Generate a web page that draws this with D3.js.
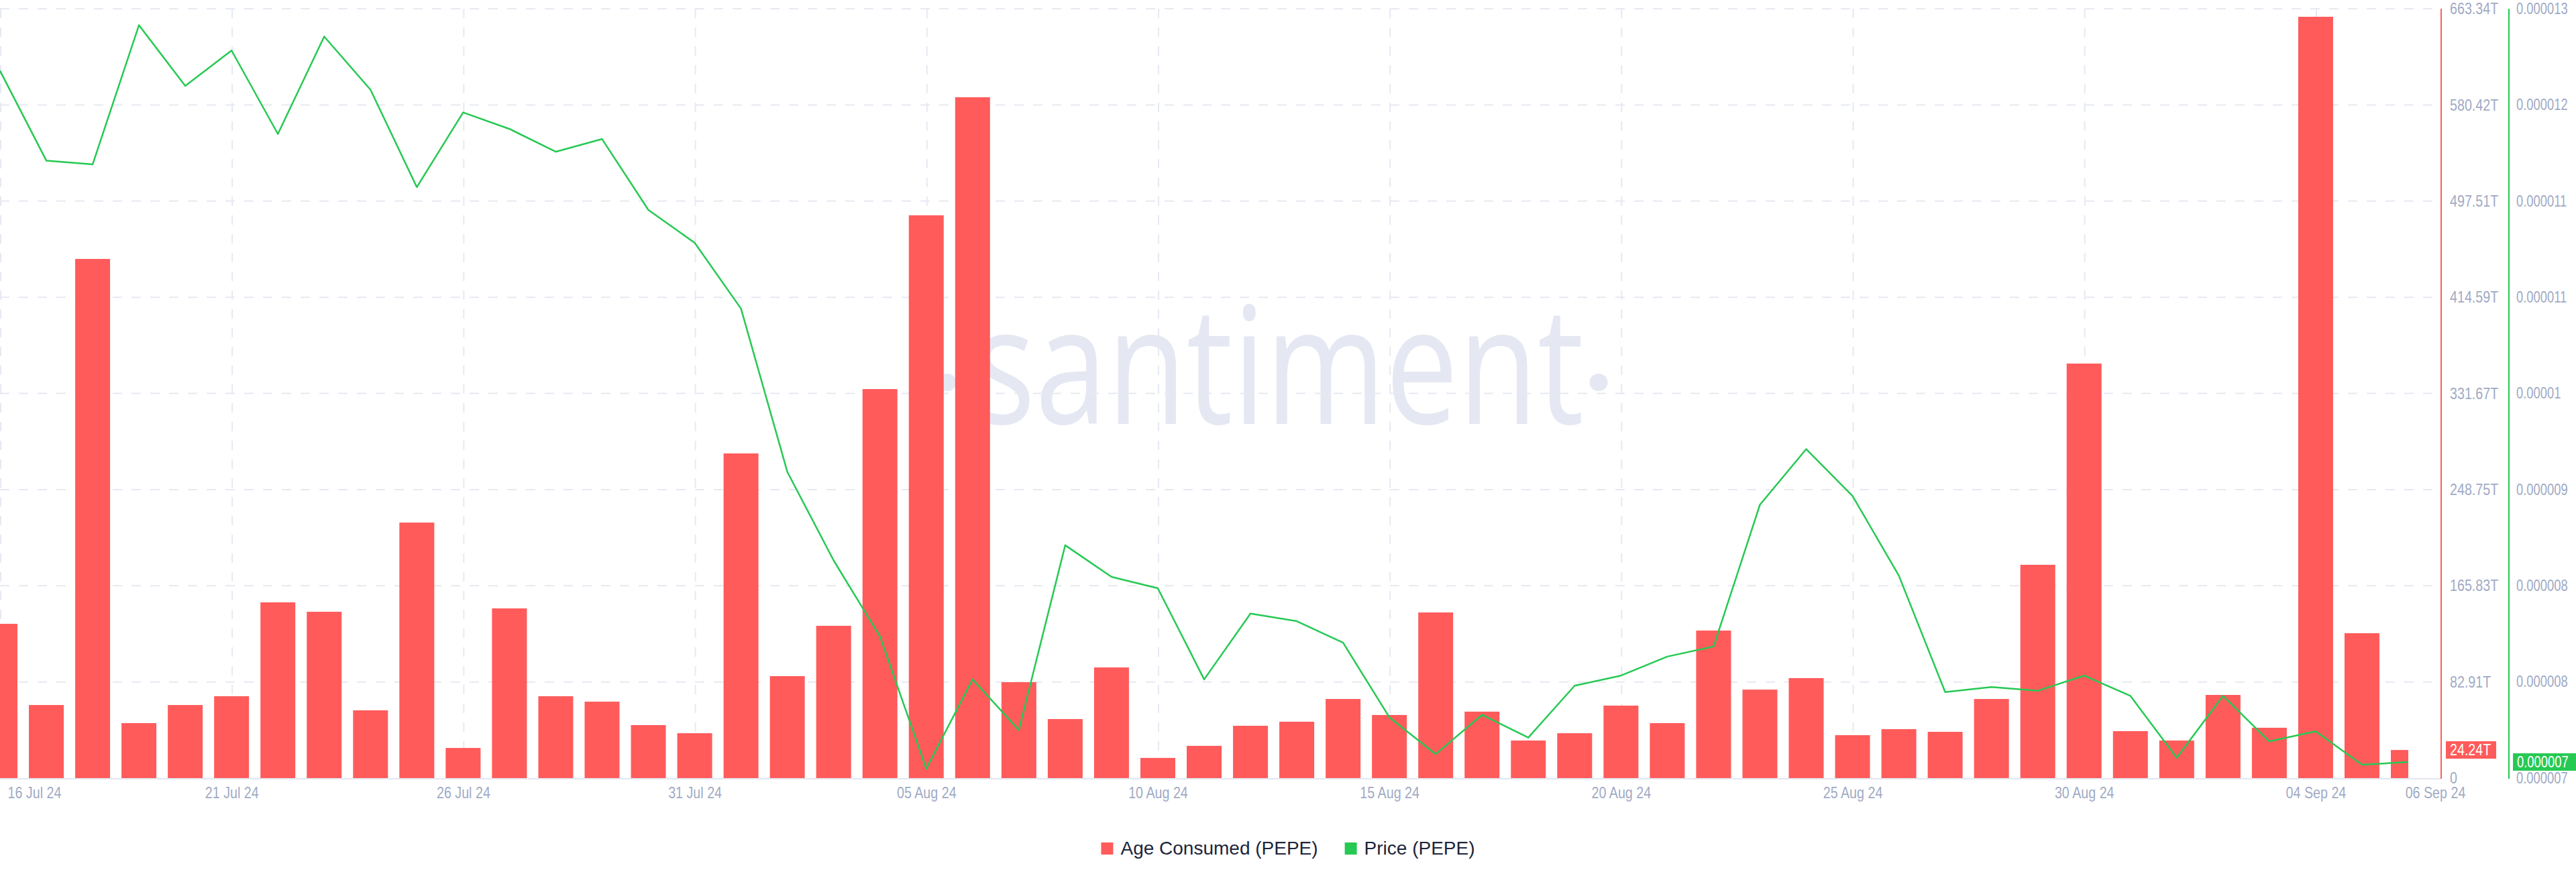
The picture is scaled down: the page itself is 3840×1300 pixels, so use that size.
<!DOCTYPE html>
<html>
<head>
<meta charset="utf-8">
<script src="https://cdn.jsdelivr.net/npm/d3@7"></script>
<style>
  html, body { margin: 0; padding: 0; background: #ffffff; }
  svg { display: block; }
</style>
</head>
<body>
<svg id="chart" width="3840" height="1300"></svg>
<script>
// ---------------- DATA ----------------
const dates = [
  "2024-07-16","2024-07-17","2024-07-18","2024-07-19","2024-07-20","2024-07-21","2024-07-22","2024-07-23",
  "2024-07-24","2024-07-25","2024-07-26","2024-07-27","2024-07-28","2024-07-29","2024-07-30","2024-07-31",
  "2024-08-01","2024-08-02","2024-08-03","2024-08-04","2024-08-05","2024-08-06","2024-08-07","2024-08-08",
  "2024-08-09","2024-08-10","2024-08-11","2024-08-12","2024-08-13","2024-08-14","2024-08-15","2024-08-16",
  "2024-08-17","2024-08-18","2024-08-19","2024-08-20","2024-08-21","2024-08-22","2024-08-23","2024-08-24",
  "2024-08-25","2024-08-26","2024-08-27","2024-08-28","2024-08-29","2024-08-30","2024-08-31","2024-09-01",
  "2024-09-02","2024-09-03","2024-09-04","2024-09-05","2024-09-06"
];

// Age Consumed (PEPE), in trillions
const ageConsumedT = [
  133.0, 63.0, 447.6, 47.4, 63.0, 70.6, 151.5, 143.4, 58.4, 220.3,
  26.0, 146.3, 70.6, 65.9, 45.7, 38.7, 279.9, 87.9, 131.3, 335.4,
  485.2, 587.0, 82.7, 50.9, 95.4, 17.4, 27.8, 45.1, 48.6, 68.2,
  54.4, 142.8, 57.3, 32.4, 38.7, 62.5, 47.4, 127.2, 76.3, 86.2,
  37.0, 42.2, 39.9, 68.2, 183.9, 357.4, 40.5, 32.4, 71.7, 43.4,
  656.4, 124.9, 24.24
];

// Price (PEPE), USD
const pricePEPE = [
  12.39e-6, 11.68e-6, 11.65e-6, 12.75e-6, 12.27e-6, 12.55e-6, 11.89e-6, 12.66e-6, 12.24e-6, 11.47e-6,
  12.06e-6, 11.93e-6, 11.75e-6, 11.85e-6, 11.29e-6, 11.03e-6, 10.51e-6, 9.22e-6, 8.52e-6, 7.92e-6,
  6.874e-6, 7.58e-6, 7.18e-6, 8.64e-6, 8.39e-6, 8.30e-6, 7.58e-6, 8.10e-6, 8.04e-6, 7.87e-6,
  7.28e-6, 6.99e-6, 7.30e-6, 7.12e-6, 7.53e-6, 7.61e-6, 7.76e-6, 7.84e-6, 8.96e-6, 9.40e-6,
  9.03e-6, 8.40e-6, 7.48e-6, 7.52e-6, 7.49e-6, 7.61e-6, 7.45e-6, 6.96e-6, 7.45e-6, 7.09e-6,
  7.17e-6, 6.906e-6, 6.927e-6
];

const ageTickLabels = ["0","82.91T","165.83T","248.75T","331.67T","414.59T","497.51T","580.42T","663.34T"];
const priceTickLabels = ["0.000007","0.000008","0.000008","0.000009","0.00001","0.000011","0.000011","0.000012","0.000013"];
const xTickDates = ["2024-07-16","2024-07-21","2024-07-26","2024-07-31","2024-08-05","2024-08-10",
  "2024-08-15","2024-08-20","2024-08-25","2024-08-30","2024-09-04","2024-09-06"];

const seriesNames = ["Age Consumed (PEPE)", "Price (PEPE)"];
const seriesColors = ["#ff5b5b", "#26c953"];

const ageMaxT = 663.34;
const priceDomain = [6.8e-6, 12.88e-6];

// ---------------- LAYOUT ----------------
const plot = { left: 0, right: 3639, top: 13, bottom: 1160, lastX: 3590 };
const tickColor = "#9faac4";
const gridColor = "#e6e9f2";
const tickFont = "'Liberation Sans', Arial, sans-serif";

// compress text horizontally to mimic a narrow face
function condense(sel, factor) {
  sel.each(function () {
    const len = this.getComputedTextLength();
    d3.select(this).attr("textLength", len * factor).attr("lengthAdjust", "spacingAndGlyphs");
  });
}

const parse = d3.utcParse("%Y-%m-%d");
const rows = dates.map((d, i) => ({ date: parse(d), age: ageConsumedT[i], price: pricePEPE[i] }));

const x = d3.scaleUtc().domain([rows[0].date, rows[rows.length - 1].date]).range([plot.left, plot.lastX]);
const yAge = d3.scaleLinear().domain([0, ageMaxT]).range([plot.bottom, plot.top]);
const yPrice = d3.scaleLinear().domain(priceDomain).range([plot.bottom, plot.top]);

const ageTickVals = ageTickLabels.map((_, k) => k * ageMaxT / 8);
const priceTickVals = priceTickLabels.map((_, k) => priceDomain[0] + k * (priceDomain[1] - priceDomain[0]) / 8);

const svg = d3.select("#chart");
svg.append("rect").attr("width", 3840).attr("height", 1300).attr("fill", "#ffffff");

// ---------------- WATERMARK ----------------
const wm = svg.append("g").attr("fill", "#e5e8f2");
wm.append("text")
  .attr("x", 1906).attr("y", 632)
  .attr("text-anchor", "middle")
  .attr("font-family", "'Open Sans', sans-serif")
  .attr("font-size", 243)
  .attr("textLength", 910)
  .attr("lengthAdjust", "spacingAndGlyphs")
  .text("santiment");
[1412, 2383].forEach(cx => wm.append("ellipse").attr("cx", cx).attr("cy", 570).attr("rx", 13.5).attr("ry", 13));

// ---------------- GRID ----------------
const grid = svg.append("g").attr("stroke", gridColor).attr("stroke-width", 2).attr("stroke-dasharray", "14,14");
grid.selectAll("line.h").data(ageTickVals.slice(1)).join("line")
  .attr("class", "h")
  .attr("x1", plot.left).attr("x2", plot.right)
  .attr("y1", d => yAge(d)).attr("y2", d => yAge(d));
grid.selectAll("line.v").data(xTickDates.slice(0, -1).map(parse)).join("line")
  .attr("class", "v")
  .attr("x1", d => x(d) + 1).attr("x2", d => x(d) + 1)
  .attr("y1", plot.top).attr("y2", plot.bottom);

// ---------------- BARS ----------------
const barW = 52;
const xMin = x(rows[0].date), xMax = x(rows[rows.length - 1].date);
svg.append("g").attr("fill", seriesColors[0])
  .selectAll("rect").data(rows).join("rect")
  .attr("x", d => Math.max(xMin, x(d.date) - barW / 2))
  .attr("width", d => Math.min(xMax, x(d.date) + barW / 2) - Math.max(xMin, x(d.date) - barW / 2))
  .attr("y", d => yAge(d.age))
  .attr("height", d => yAge(0) - yAge(d.age));

// baseline
svg.append("line")
  .attr("x1", plot.left).attr("x2", plot.right)
  .attr("y1", plot.bottom + 1).attr("y2", plot.bottom + 1)
  .attr("stroke", "#e3e6f0").attr("stroke-width", 2);

// ---------------- PRICE LINE ----------------
svg.append("path")
  .datum(rows)
  .attr("fill", "none")
  .attr("stroke", seriesColors[1])
  .attr("stroke-width", 2.5)
  .attr("stroke-linejoin", "round")
  .attr("d", d3.line().x(d => x(d.date)).y(d => yPrice(d.price)));

// ---------------- AXES ----------------
svg.append("line").attr("x1", plot.right).attr("x2", plot.right)
  .attr("y1", plot.top).attr("y2", plot.bottom + 1)
  .attr("stroke", seriesColors[0]).attr("stroke-width", 2);
svg.append("line").attr("x1", 3740).attr("x2", 3740)
  .attr("y1", plot.top).attr("y2", plot.bottom + 1)
  .attr("stroke", seriesColors[1]).attr("stroke-width", 2);

function styleAxis(g) {
  g.select(".domain").remove();
  g.selectAll(".tick line").remove();
  g.selectAll("text")
    .attr("fill", tickColor)
    .attr("font-family", tickFont)
    .attr("font-size", 24);
}

svg.append("g").attr("transform", `translate(${plot.right},0)`)
  .call(d3.axisRight(yAge).tickValues(ageTickVals).tickFormat((d, i) => ageTickLabels[i]).tickSize(0).tickPadding(13))
  .call(styleAxis)
  .call(g => condense(g.selectAll("text"), 0.82));

// price axis: labels drawn with a horizontal scale transform (narrow look)
const priceAxis = svg.append("g").attr("transform", `translate(3740,0)`)
  .call(d3.axisRight(yPrice).tickValues(priceTickVals).tickFormat((d, i) => priceTickLabels[i]).tickSize(0).tickPadding(11))
  .call(styleAxis);
priceAxis.selectAll(".tick text")
  .attr("font-size", 23)
  .attr("transform", "scale(0.8,1)")
  .attr("x", 11 / 0.8);

const xTicks = xTickDates.map(parse);
const xAxis = svg.append("g").attr("transform", `translate(0,${plot.bottom})`)
  .call(d3.axisBottom(x).tickValues(xTicks).tickFormat(d3.utcFormat("%d %b %y")).tickSize(0).tickPadding(13))
  .call(styleAxis)
  .call(g => condense(g.selectAll("text"), 0.82));
const xTexts = xAxis.selectAll(".tick text");
const nX = xTicks.length;
xTexts.filter((d, i) => i === 0).attr("text-anchor", "start").attr("x", 11);
xTexts.filter((d, i) => i === nX - 1).attr("x", 40);

// ---------------- LAST VALUE LABELS ----------------
const last = rows[rows.length - 1];
function lastLabel(xPos, yPos, w, color, txt, factor, size) {
  const g = svg.append("g");
  g.append("rect").attr("x", xPos).attr("y", yPos - 13).attr("width", w).attr("height", 26).attr("fill", color);
  g.append("text")
    .attr("transform", `translate(${xPos + 6},${yPos}) scale(${factor},1)`)
    .attr("dy", "0.35em")
    .attr("fill", "#ffffff").attr("font-family", tickFont).attr("font-size", size).text(txt);
}
lastLabel(plot.right + 7, yAge(last.age), 75, seriesColors[0], last.age.toFixed(2) + "T", 0.82, 24);
lastLabel(3746, yPrice(last.price), 94, seriesColors[1], (+last.price.toFixed(6)).toString(), 0.8, 23);

// ---------------- LEGEND ----------------
const legend = svg.append("g");
const items = [];
seriesNames.forEach((name, i) => {
  const g = legend.append("g");
  g.append("rect").attr("x", 0).attr("y", 1256).attr("width", 18).attr("height", 18).attr("fill", seriesColors[i]);
  const t = g.append("text").attr("x", 29).attr("y", 1274)
    .attr("fill", "#20253a").attr("font-family", "'Liberation Sans', Arial, sans-serif").attr("font-size", 28).text(name);
  const w = 29 + t.node().getComputedTextLength();
  items.push({ g, w });
});
const gap = 40;
const total = d3.sum(items, d => d.w) + gap * (items.length - 1);
let start = 1920 - total / 2;
items.forEach(it => { it.g.attr("transform", `translate(${start},0)`); start += it.w + gap; });
</script>
</body>
</html>
